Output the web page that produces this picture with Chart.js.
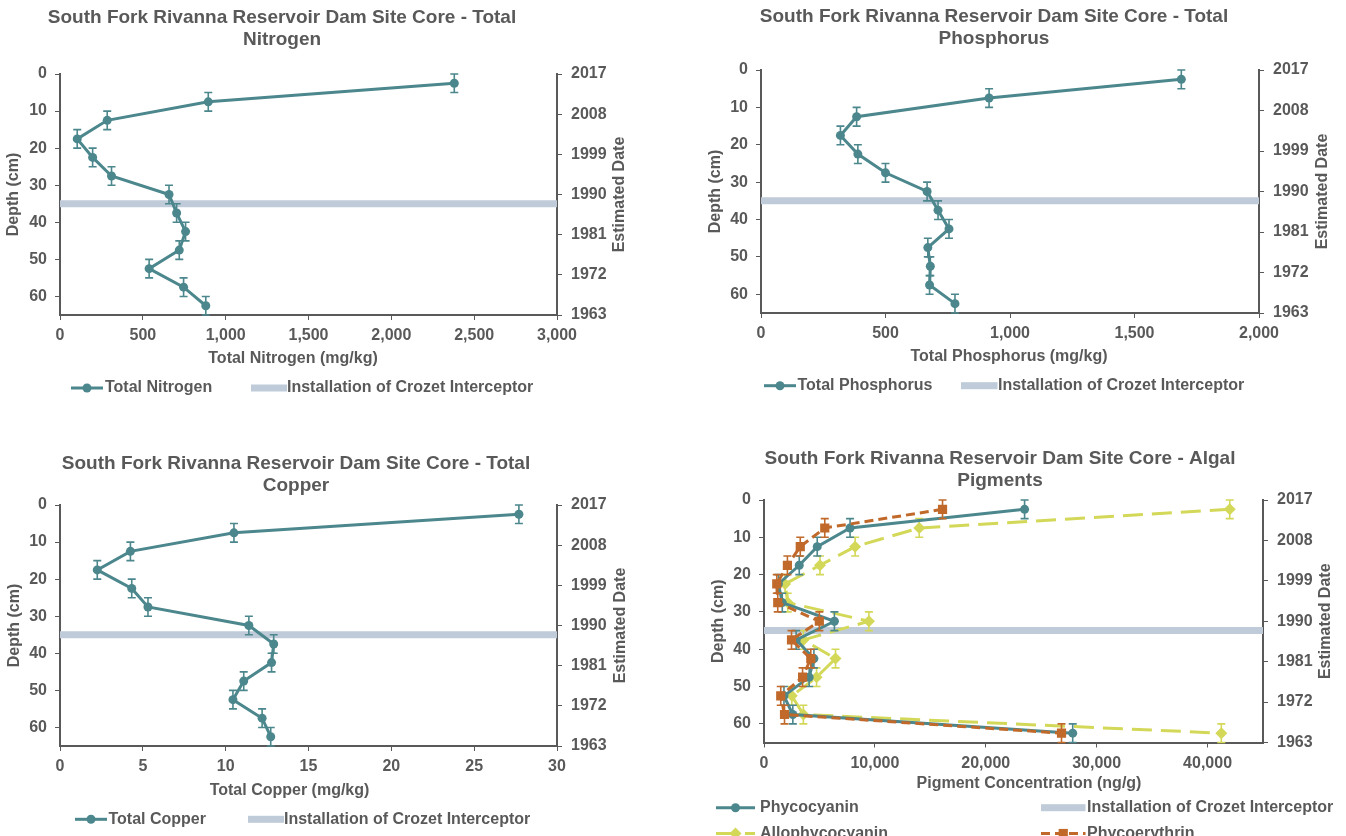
<!DOCTYPE html>
<html>
<head>
<meta charset="utf-8">
<script src="https://cdn.jsdelivr.net/npm/chart.js@4.4.1/dist/chart.umd.min.js"></script>
<style>
  html, body { margin: 0; padding: 0; background: #fff; overflow: hidden; width: 1346px; height: 836px; }
  canvas { position: absolute; }
</style>
</head>
<body>
<canvas id="nitrogen" width="673" height="418" style="left:0;top:0"></canvas>
<canvas id="phosphorus" width="673" height="418" style="left:673px;top:0"></canvas>
<canvas id="copper" width="673" height="418" style="left:0;top:418px"></canvas>
<canvas id="pigments" width="673" height="418" style="left:673px;top:418px"></canvas>
<script>
// Core sample mid-depths (cm), each slice 5 cm thick
const depths = [2.5, 7.5, 12.5, 17.5, 22.5, 27.5, 32.5, 37.5, 42.5, 47.5, 52.5, 57.5, 62.5];
const sliceHalfThickness = 2.5;
const interceptorDepth = 35;

// Axis ticks
const depthTicks = [0, 10, 20, 30, 40, 50, 60];
const dateTicks = [2017, 2008, 1999, 1990, 1981, 1972, 1963];
const nitrogenTicks = [0, 500, 1000, 1500, 2000, 2500, 3000];
const phosphorusTicks = [0, 500, 1000, 1500, 2000];
const copperTicks = [0, 5, 10, 15, 20, 25, 30];
const pigmentTicks = [0, 10000, 20000, 30000, 40000];

// Nutrients and metals (mg/kg)
const totalNitrogen = [2380, 895, 285, 104, 197, 311, 658, 704, 758, 720, 538, 746, 880];
const totalPhosphorus = [1688, 916, 384, 319, 389, 500, 667, 711, 755, 670, 680, 677, 779];
const totalCopper = [27.7, 10.5, 4.25, 2.25, 4.33, 5.31, 11.4, 12.9, 12.77, 11.09, 10.44, 12.2, 12.72];

// Algal pigments (ng/g)
const phycocyanin = [23500, 7760, 4800, 3180, 1300, 1650, 6350, 2900, 4500, 4070, 1800, 2600, 27840];
const allophycocyanin = [42000, 14000, 8220, 5050, 1900, 2140, 9460, 3550, 6450, 4740, 2510, 3550, 41240];
const phycoerythrin = [16100, 5480, 3270, 2110, 1150, 1240, 4990, 2480, 4220, 3480, 1510, 1850, 26830];

const TEXT = '#595959';
const AXIS = '#595959';
const FONT = '"Liberation Sans", Arial, Helvetica, sans-serif';
const TEAL = '#4B878C';
const YELLOW = '#D4D858';
const ORANGE = '#C0692A';
const BAND = '#BFCBD9';

const errorBars = {
  id: 'errorBars',
  afterDatasetDraw(chart, args) {
    const ds = chart.data.datasets[args.index];
    if (!ds.yError) return;
    const ctx = chart.ctx;
    const yScale = chart.scales.y;
    ctx.save();
    ctx.strokeStyle = ds.borderColor;
    ctx.lineWidth = 1.6;
    ctx.setLineDash([]);
    args.meta.data.forEach((pt, i) => {
      const d = ds.data[i].y;
      const e = ds.yError[i];
      const y0 = yScale.getPixelForValue(d - e);
      const y1 = yScale.getPixelForValue(d + e);
      const x = pt.x;
      const c = 4;
      ctx.beginPath();
      ctx.moveTo(x, y0); ctx.lineTo(x, y1);
      ctx.moveTo(x - c, y0); ctx.lineTo(x + c, y0);
      ctx.moveTo(x - c, y1); ctx.lineTo(x + c, y1);
      ctx.stroke();
    });
    ctx.restore();
  }
};

function drawMarker(ctx, style, x, y, r, color) {
  ctx.save();
  ctx.fillStyle = color;
  ctx.setLineDash([]);
  ctx.beginPath();
  if (style === 'circle') {
    ctx.arc(x, y, r, 0, Math.PI * 2);
  } else if (style === 'rect') {
    const s = r * Math.SQRT1_2;
    ctx.rect(x - s, y - s, 2 * s, 2 * s);
  } else if (style === 'rectRot') {
    ctx.moveTo(x, y - r); ctx.lineTo(x + r, y); ctx.lineTo(x, y + r); ctx.lineTo(x - r, y);
    ctx.closePath();
  }
  ctx.fill();
  ctx.restore();
}

const panelText = {
  id: 'panelText',
  afterDraw(chart, _args, o) {
    const ctx = chart.ctx;
    const ca = chart.chartArea;
    ctx.save();
    ctx.fillStyle = TEXT;
    ctx.textBaseline = 'middle';
    ctx.textAlign = 'center';
    ctx.font = 'bold 19px ' + FONT;
    o.title.forEach((t, i) => ctx.fillText(t, o.titleX, o.titleY + i * 22));
    ctx.font = 'bold 16px ' + FONT;
    ctx.fillText(o.xTitle, o.xTitleX, o.xTitleY);
    const midY = (ca.top + ca.bottom) / 2;
    [[o.leftTitle, o.leftTitleX], [o.rightTitle, o.rightTitleX]].forEach(([t, x]) => {
      ctx.save();
      ctx.translate(x, midY);
      ctx.rotate(-Math.PI / 2);
      ctx.fillText(t, 0, 0);
      ctx.restore();
    });
    ctx.textAlign = 'left';
    o.legend.forEach(it => {
      const ds = chart.data.datasets[it.index];
      if (ds.isBand) {
        ctx.fillStyle = ds.borderColor;
        ctx.fillRect(it.x, it.y - ds.borderWidth / 2, it.w, ds.borderWidth);
      } else {
        ctx.save();
        ctx.strokeStyle = ds.borderColor;
        ctx.lineWidth = ds.borderWidth;
        ctx.setLineDash(ds.borderDash || []);
        ctx.beginPath();
        ctx.moveTo(it.x, it.y);
        ctx.lineTo(it.x + it.w, it.y);
        ctx.stroke();
        ctx.restore();
        drawMarker(ctx, ds.pointStyle, it.x + it.w / 2, it.y, ds.pointRadius, ds.borderColor);
      }
      ctx.fillStyle = TEXT;
      ctx.fillText(ds.label, it.tx, it.y);
    });
    ctx.restore();
  }
};

function series(label, values, color, style, radius, dash) {
  return {
    label,
    data: values.map((v, i) => ({ x: v, y: depths[i] })),
    yError: depths.map(() => sliceHalfThickness),
    borderColor: color,
    backgroundColor: color,
    pointBackgroundColor: color,
    pointBorderColor: color,
    borderWidth: 3,
    borderDash: dash || [],
    pointStyle: style,
    pointRadius: radius,
    pointBorderWidth: 0,
    tension: 0,
    order: 1
  };
}

function band(xMax) {
  return {
    label: 'Installation of Crozet Interceptor',
    isBand: true,
    data: [{ x: 0, y: interceptorDepth }, { x: xMax, y: interceptorDepth }],
    borderColor: BAND,
    backgroundColor: BAND,
    borderWidth: 7,
    borderCapStyle: 'butt',
    pointRadius: 0,
    order: 10
  };
}

const tickFont = { family: FONT, size: 16, weight: 'bold' };
const useTicks = values => s => { s.ticks = values.map(v => ({ value: v })); };

function makeChart(id, lay, datasets, xMax, xTicks, xLabel, title) {
  return new Chart(document.getElementById(id), {
    type: 'line',
    data: { datasets },
    options: {
      responsive: false,
      animation: false,
      events: [],
      devicePixelRatio: 1,
      layout: { padding: { top: lay.padTop, left: 0, right: 0, bottom: 0 } },
      plugins: {
        legend: { display: false },
        tooltip: { enabled: false },
        panelText: {
          title,
          titleX: lay.titleX, titleY: lay.titleY,
          xTitle: xLabel, xTitleX: lay.xTitleX, xTitleY: lay.xTitleY,
          leftTitle: 'Depth (cm)', leftTitleX: lay.leftTitleX,
          rightTitle: 'Estimated Date', rightTitleX: lay.rightTitleX,
          legend: lay.legend
        }
      },
      scales: {
        x: {
          type: 'linear', position: 'bottom', min: 0, max: xMax,
          ticks: { color: TEXT, font: tickFont, padding: 6, maxRotation: 0, autoSkip: false,
                   callback: v => v.toLocaleString('en-US') },
          afterBuildTicks: useTicks(xTicks),
          grid: { drawOnChartArea: false, tickLength: 5, color: AXIS, lineWidth: 1 },
          border: { color: AXIS, width: 2 },
          afterFit: s => { s.height = lay.bottom; }
        },
        y: {
          type: 'linear', position: 'left', reverse: true, min: 0, max: 65,
          ticks: { color: TEXT, font: tickFont, padding: 8, autoSkip: false },
          afterBuildTicks: useTicks(depthTicks),
          grid: { drawOnChartArea: false, tickLength: 5, color: AXIS, lineWidth: 1 },
          border: { color: AXIS, width: 2 },
          afterFit: s => { s.width = lay.left; }
        },
        y2: {
          type: 'linear', position: 'right',
          min: Math.min(...dateTicks), max: Math.max(...dateTicks),
          ticks: { color: TEXT, font: tickFont, padding: 9, autoSkip: false, callback: v => String(v) },
          afterBuildTicks: useTicks(dateTicks),
          grid: { drawOnChartArea: false, tickLength: 5, color: AXIS, lineWidth: 1 },
          border: { color: AXIS, width: 2 },
          afterFit: s => { s.width = lay.right; }
        }
      }
    },
    plugins: [errorBars, panelText]
  });
}

const layouts = {
  nitrogen: {
    padTop: 74, left: 60, right: 116, bottom: 103,
    titleX: 282, titleY: 17.5, leftTitleX: 14, rightTitleX: 620, xTitleX: 293, xTitleY: 359,
    legend: [{ index: 0, x: 71, w: 32, tx: 105, y: 388 }, { index: 1, x: 251, w: 36, tx: 287, y: 388 }]
  },
  phosphorus: {
    padTop: 70, left: 88, right: 87, bottom: 105,
    titleX: 321, titleY: 16.7, leftTitleX: 43, rightTitleX: 650, xTitleX: 336, xTitleY: 356.7,
    legend: [{ index: 0, x: 91, w: 32, tx: 124.5, y: 385.7 }, { index: 1, x: 288, w: 36.5, tx: 325, y: 385.7 }]
  },
  copper: {
    padTop: 87, left: 60, right: 116, bottom: 90,
    titleX: 296, titleY: 46, leftTitleX: 15, rightTitleX: 621, xTitleX: 289.5, xTitleY: 372.7,
    legend: [{ index: 0, x: 75, w: 32, tx: 108.5, y: 401.3 }, { index: 1, x: 248, w: 36, tx: 284, y: 401.3 }]
  },
  pigments: {
    padTop: 82, left: 91, right: 83, bottom: 93.5,
    titleX: 327, titleY: 40.3, leftTitleX: 46, rightTitleX: 653, xTitleX: 356, xTitleY: 365.3,
    legend: [
      { index: 0, x: 43, w: 39, tx: 87, y: 389.7 },
      { index: 3, x: 368, w: 44.5, tx: 414, y: 389.7 },
      { index: 1, x: 43, w: 39, tx: 87, y: 415.5 },
      { index: 2, x: 368, w: 44.5, tx: 414, y: 415.5 }
    ]
  }
};

makeChart('nitrogen', layouts.nitrogen,
  [series('Total Nitrogen', totalNitrogen, TEAL, 'circle', 4.5), band(3000)],
  3000, nitrogenTicks, 'Total Nitrogen (mg/kg)',
  ['South Fork Rivanna Reservoir Dam Site Core - Total', 'Nitrogen']);

makeChart('phosphorus', layouts.phosphorus,
  [series('Total Phosphorus', totalPhosphorus, TEAL, 'circle', 4.5), band(2000)],
  2000, phosphorusTicks, 'Total Phosphorus (mg/kg)',
  ['South Fork Rivanna Reservoir Dam Site Core - Total', 'Phosphorus']);

makeChart('copper', layouts.copper,
  [series('Total Copper', totalCopper, TEAL, 'circle', 4.5), band(30)],
  30, copperTicks, 'Total Copper (mg/kg)',
  ['South Fork Rivanna Reservoir Dam Site Core - Total', 'Copper']);

const pc = series('Phycocyanin', phycocyanin, TEAL, 'circle', 4.5);
pc.order = 2;
const apc = series('Allophycocyanin', allophycocyanin, YELLOW, 'rectRot', 6, [20, 9]);
apc.order = 3;
const pe = series('Phycoerythrin', phycoerythrin, ORANGE, 'rect', 6.5, [9, 5]);
pe.order = 1;
makeChart('pigments', layouts.pigments,
  [pc, apc, pe, band(45000)],
  45000, pigmentTicks, 'Pigment Concentration (ng/g)',
  ['South Fork Rivanna Reservoir Dam Site Core - Algal', 'Pigments']);
</script>
</body>
</html>
